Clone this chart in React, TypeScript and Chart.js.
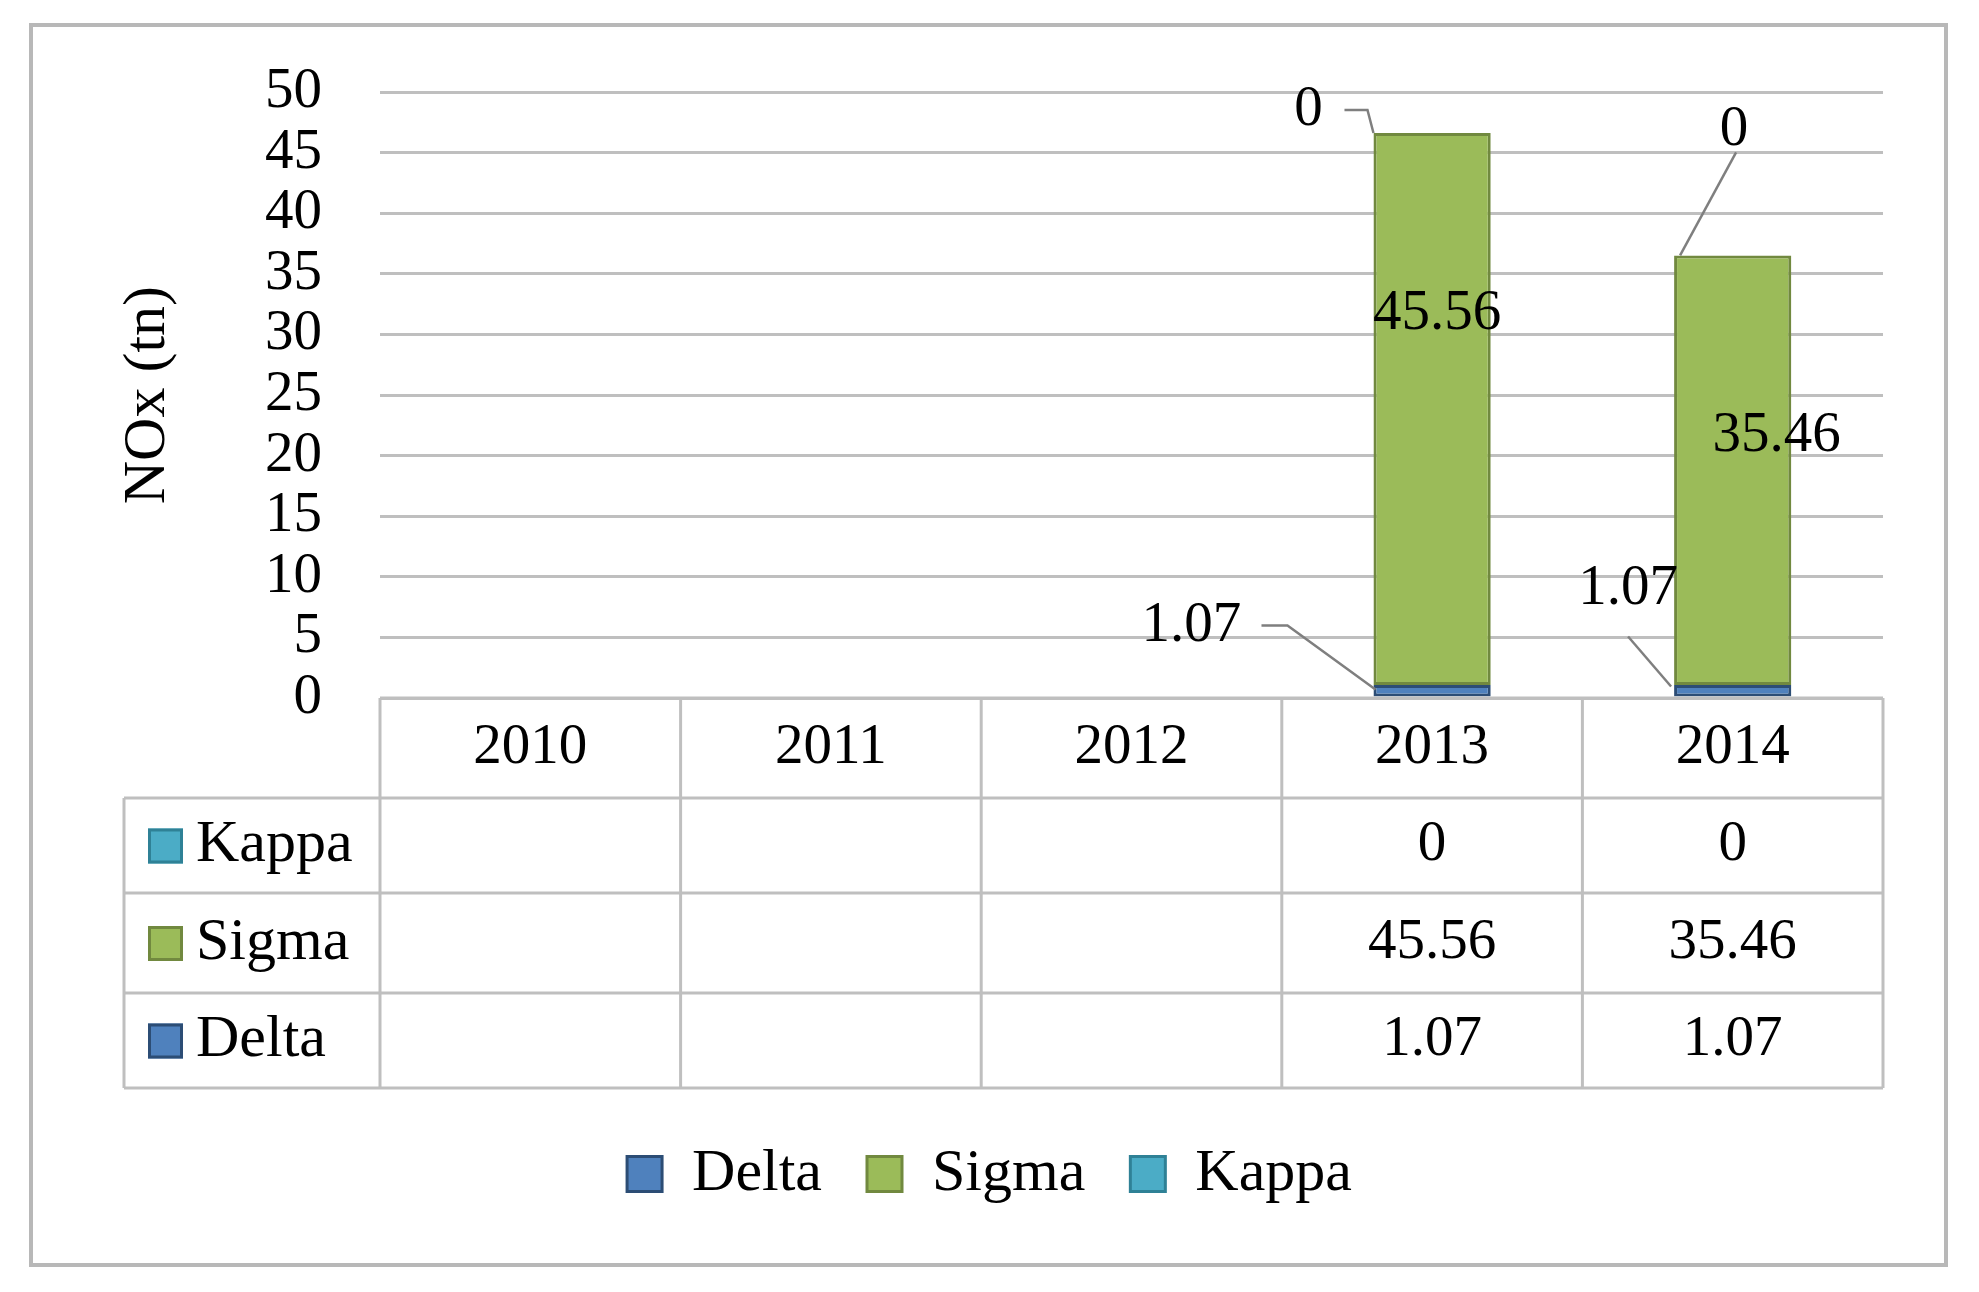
import React, { useEffect, useRef } from 'react';
import { Chart, registerables } from 'chart.js';

Chart.register(...registerables);

// ---------- data ----------
const years: string[] = ['2010', '2011', '2012', '2013', '2014'];
const deltaValues: (number | null)[] = [null, null, null, 1.07, 1.07];
const sigmaValues: (number | null)[] = [null, null, null, 45.56, 35.46];
const kappaValues: (number | null)[] = [null, null, null, 0, 0];
const seriesNames: string[] = ['Delta', 'Sigma', 'Kappa'];
const yTickMin = 0;
const yTickMax = 50;
const yTickStep = 5;
const yTitle = 'NOx (tn)';

// ---------- styles ----------
const fillColors = ['#4F81BD', '#9BBB59', '#4BACC6'];
const borderColors = ['#2C4D75', '#71893F', '#2F8196'];
const FONT = 'Liberation Serif';
const NUM_SIZE = 57;
const WORD_SIZE = 60;
const LINE_GRAY = '#BFBFBF';
const LEADER_GRAY = '#7F7F7F';

const W = 1979;
const H = 1292;

// label placement (offsets in px relative to bar anchors), per category index
const deltaLabelPos: Record<number, { text: [number, number]; leader: [number, number][] }> = {
  3: { text: [-182, -70], leader: [[-112, -71], [-86, -71], [2, -7]] },
  4: { text: [-46, -107], leader: [[-46, -60], [-3, -10]] },
};
const sigmaLabelPos: Record<number, [number, number]> = {
  3: [5, 181],
  4: [44, 181],
};
const kappaLabelPos: Record<number, { text: [number, number]; leader: [number, number][] }> = {
  3: { text: [-65, -23], leader: [[-29, -23], [-6, -23], [0, 0]] },
  4: { text: [60, -125], leader: [[62, -103], [6, 0]] },
};

const fmt = (v: number | null) => (v === null || v === undefined ? '' : String(v));

const tablePlugin = {
  id: 'tableAndLabels',
  afterDraw(chart: any) {
    const ctx: CanvasRenderingContext2D = chart.ctx;
    const area = chart.chartArea;
    const xScale = chart.scales.x;
    ctx.save();

    // outer frame
    ctx.strokeStyle = '#B8B8B8';
    ctx.lineWidth = 4;
    ctx.strokeRect(31, 25, 1915, 1240);

    // table geometry
    const top = area.bottom;
    const rowsY = [top, top + 100, top + 195, top + 295, top + 390];
    const leftOuter = 124;
    const n = years.length;
    const catW = (area.right - area.left) / n;
    const colX: number[] = [];
    for (let i = 0; i <= n; i++) colX.push(area.left + i * catW);

    ctx.strokeStyle = LINE_GRAY;
    ctx.lineWidth = 3;
    ctx.beginPath();
    ctx.moveTo(area.left, rowsY[0]);
    ctx.lineTo(area.right, rowsY[0]);
    for (let r = 1; r < rowsY.length; r++) {
      ctx.moveTo(leftOuter, rowsY[r]);
      ctx.lineTo(area.right, rowsY[r]);
    }
    for (let i = 0; i <= n; i++) {
      ctx.moveTo(colX[i], rowsY[0]);
      ctx.lineTo(colX[i], rowsY[rowsY.length - 1]);
    }
    ctx.moveTo(leftOuter, rowsY[1]);
    ctx.lineTo(leftOuter, rowsY[rowsY.length - 1]);
    ctx.stroke();

    // rows: Kappa, Sigma, Delta
    const rowSeries = [2, 1, 0];
    const seriesData = [deltaValues, sigmaValues, kappaValues];
    ctx.textBaseline = 'middle';
    rowSeries.forEach((s, r) => {
      const cy = (rowsY[r + 1] + rowsY[r + 2]) / 2;
      ctx.fillStyle = fillColors[s];
      ctx.fillRect(148, cy - 17, 35, 35);
      ctx.strokeStyle = borderColors[s];
      ctx.lineWidth = 3;
      ctx.strokeRect(149.5, cy - 15.5, 32, 32);
      ctx.fillStyle = '#000';
      ctx.textAlign = 'left';
      ctx.font = `${WORD_SIZE}px "${FONT}"`;
      ctx.fillText(seriesNames[s], 196, cy);
      ctx.textAlign = 'center';
      ctx.font = `${NUM_SIZE}px "${FONT}"`;
      seriesData[s].forEach((v, i) => {
        if (v === null) return;
        ctx.fillText(fmt(v), xScale.getPixelForValue(i), cy);
      });
    });

    // data labels on bars
    const drawLeader = (pts: [number, number][]) => {
      ctx.strokeStyle = LEADER_GRAY;
      ctx.lineWidth = 2.5;
      ctx.beginPath();
      pts.forEach((p, k) => (k === 0 ? ctx.moveTo(p[0], p[1]) : ctx.lineTo(p[0], p[1])));
      ctx.stroke();
    };
    ctx.font = `${NUM_SIZE}px "${FONT}"`;
    ctx.fillStyle = '#000';
    ctx.textAlign = 'center';
    ctx.textBaseline = 'middle';

    const metaD = chart.getDatasetMeta(0);
    const metaS = chart.getDatasetMeta(1);
    const metaK = chart.getDatasetMeta(2);
    deltaValues.forEach((v, i) => {
      if (v === null || !deltaLabelPos[i]) return;
      const el = metaD.data[i].getProps(['x', 'y', 'base', 'width'], true);
      const ax = el.x - el.width / 2;
      const ay = el.base;
      const cfg = deltaLabelPos[i];
      drawLeader(cfg.leader.map((p) => [ax + p[0], ay + p[1]] as [number, number]));
      ctx.fillStyle = '#000';
      ctx.fillText(fmt(v), ax + cfg.text[0], ay + cfg.text[1]);
    });
    sigmaValues.forEach((v, i) => {
      if (v === null || !sigmaLabelPos[i]) return;
      const el = metaS.data[i].getProps(['x', 'y', 'base', 'width'], true);
      const cfg = sigmaLabelPos[i];
      ctx.fillStyle = '#000';
      ctx.fillText(fmt(v), el.x + cfg[0], el.y + cfg[1]);
    });
    kappaValues.forEach((v, i) => {
      if (v === null || !kappaLabelPos[i]) return;
      const el = metaK.data[i].getProps(['x', 'y', 'base', 'width'], true);
      const ax = el.x - el.width / 2;
      const ay = el.y;
      const cfg = kappaLabelPos[i];
      drawLeader(cfg.leader.map((p) => [ax + p[0], ay + p[1]] as [number, number]));
      ctx.fillStyle = '#000';
      ctx.fillText(fmt(v), ax + cfg.text[0], ay + cfg.text[1]);
    });

    ctx.restore();
  },
};

export default function App() {
  const canvasRef = useRef<HTMLCanvasElement | null>(null);

  useEffect(() => {
    document.body.style.margin = '0';
    document.body.style.overflow = 'hidden';
    const canvas = canvasRef.current;
    if (!canvas) return;
    const seriesData = [deltaValues, sigmaValues, kappaValues];
    const chart = new Chart(canvas, {
      type: 'bar',
      data: {
        labels: years,
        datasets: seriesNames.map((name, s) => ({
          label: name,
          data: seriesData[s],
          backgroundColor: fillColors[s],
          borderColor: borderColors[s],
          borderWidth: 3,
          borderSkipped: false,
          barPercentage: 0.39,
          categoryPercentage: 1,
        })),
      },
      options: {
        responsive: false,
        animation: false,
        devicePixelRatio: 1,
        layout: { padding: { left: 96, right: 96, top: 88, bottom: 78 } },
        plugins: {
          tooltip: { enabled: false },
          legend: {
            position: 'bottom',
            labels: {
              boxWidth: 35,
              boxHeight: 35,
              padding: 45,
              color: '#000',
              font: { family: FONT, size: WORD_SIZE },
            },
          },
        },
        scales: {
          x: {
            stacked: true,
            grid: { display: false, drawTicks: false },
            border: { display: false },
            ticks: {
              color: '#000',
              padding: 16,
              maxRotation: 0,
              autoSkip: false,
              font: { family: FONT, size: NUM_SIZE },
            },
            afterFit: (scale: any) => {
              scale.height = 401;
            },
          },
          y: {
            stacked: true,
            min: yTickMin,
            max: yTickMax,
            grid: { color: LINE_GRAY, lineWidth: 3, drawTicks: false },
            border: { display: false },
            ticks: {
              stepSize: yTickStep,
              autoSkip: false,
              color: '#000',
              padding: 58,
              font: { family: FONT, size: NUM_SIZE },
            },
            title: {
              display: true,
              text: yTitle,
              color: '#000',
              padding: { top: 16, bottom: 0 },
              font: { family: FONT, size: WORD_SIZE },
            },
            afterFit: (scale: any) => {
              scale.width = 284;
            },
          },
        },
      },
      plugins: [tablePlugin],
    } as any);
    return () => chart.destroy();
  }, []);

  return (
    <div style={{ width: W, height: H, background: '#fff' }}>
      <canvas ref={canvasRef} width={W} height={H} style={{ display: 'block', width: W, height: H }} />
    </div>
  );
}
